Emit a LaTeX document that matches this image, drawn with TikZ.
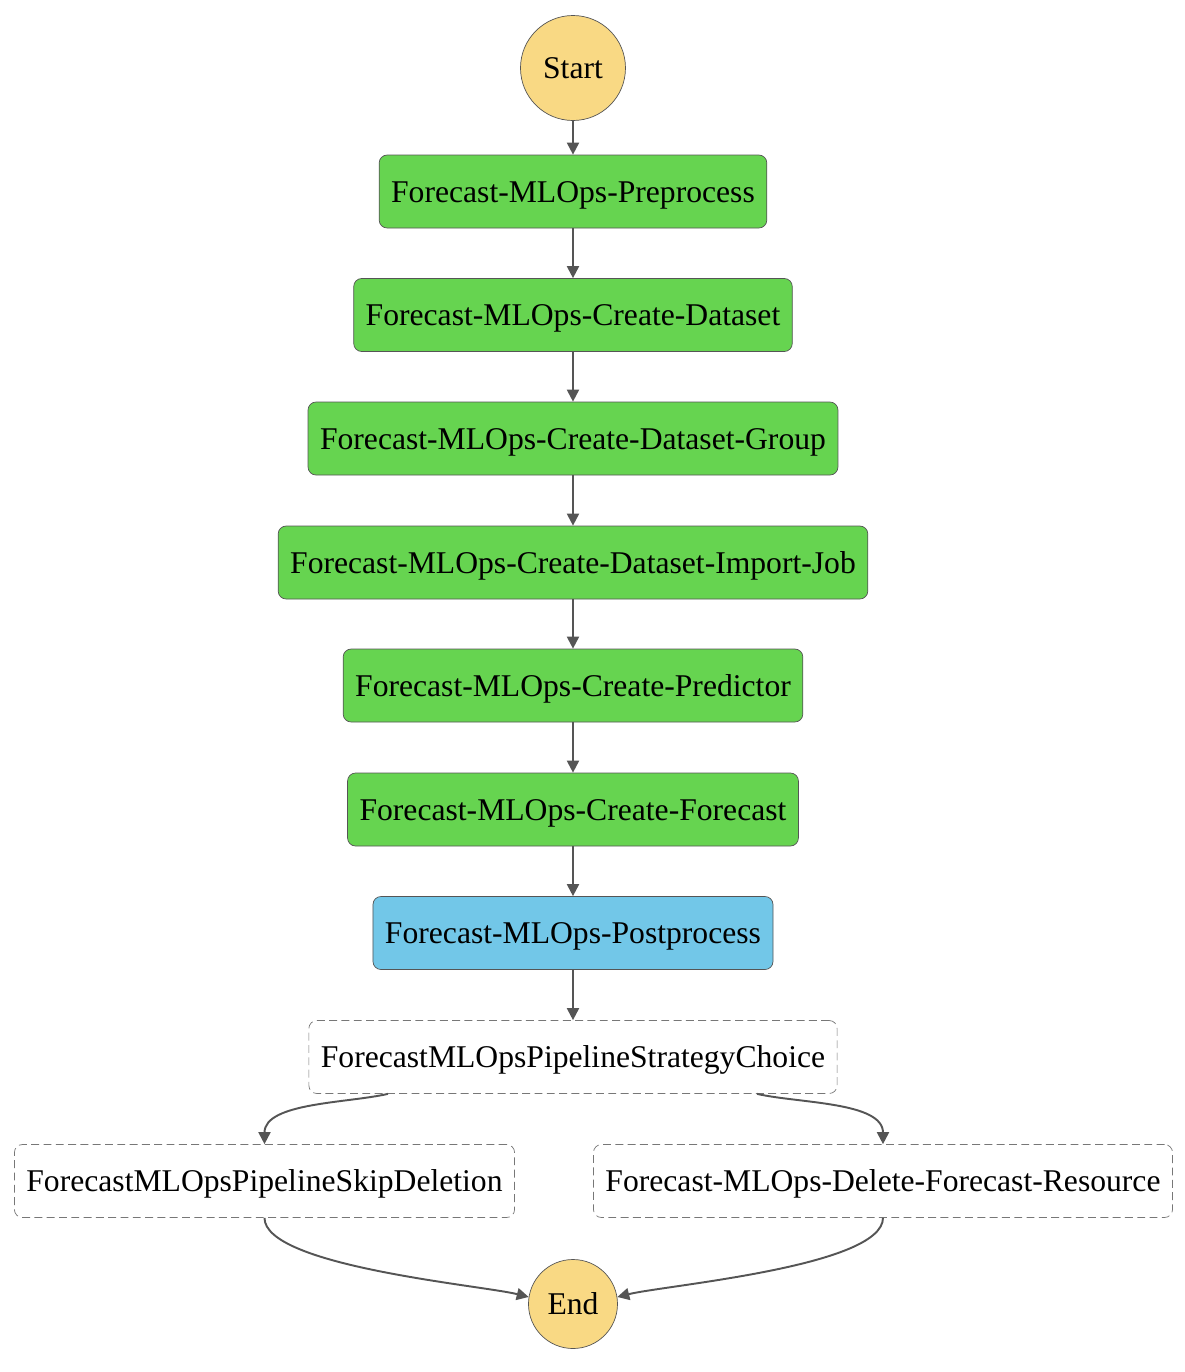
\documentclass[tikz,border=0pt]{standalone}
\usepackage{fontspec}
\setmainfont{Liberation Serif}
\usepackage{xcolor}
\usetikzlibrary{arrows.meta,shapes}

\definecolor{startyellow}{HTML}{F9D984}
\definecolor{taskgreen}{HTML}{66D450}
\definecolor{taskblue}{HTML}{72C7E8}
\definecolor{edgegray}{HTML}{555555}
\definecolor{dashgray}{HTML}{777777}

\tikzset{
	state/.style={draw=edgegray, rounded corners=0.16cm, minimum height=1.46cm,
		inner xsep=0.24cm, text height=0.43cm, text depth=0pt,
		font=\fontsize{18}{22}\selectfont},
	task/.style={state, fill=taskgreen},
	posttask/.style={state, fill=taskblue},
	choicestate/.style={state, draw=dashgray, dash pattern=on 4.5pt off 2.5pt, fill=white},
	terminal/.style={circle, draw=edgegray, fill=startyellow, inner sep=0pt,
		text height=0.43cm, text depth=0pt, font=\fontsize{18}{22}\selectfont},
	flow/.style={->, color=edgegray, line width=1.1pt, >={Triangle[length=0.24cm,width=0.24cm]}}
}

\begin{document}
\begin{tikzpicture}
		\useasboundingbox (-11.46,0) rectangle (12.24,-27.44);
		\node[terminal, minimum size=2.1cm] (Start) at (0,-1.36) {Start};
		\node[task] (Pre) at (0,-3.83) {Forecast-MLOps-Preprocess};
		\node[task] (DS) at (0,-6.30) {Forecast-MLOps-Create-Dataset};
		\node[task] (DSG) at (0,-8.77) {Forecast-MLOps-Create-Dataset-Group};
		\node[task] (DSIJ) at (0,-11.25) {Forecast-MLOps-Create-Dataset-Import-Job};
		\node[task] (Pred) at (0,-13.71) {Forecast-MLOps-Create-Predictor};
		\node[task] (FC) at (0,-16.19) {Forecast-MLOps-Create-Forecast};
		\node[posttask] (Post) at (0,-18.66) {Forecast-MLOps-Postprocess};
		\node[choicestate] (Choice) at (0,-21.14) {ForecastMLOpsPipelineStrategyChoice};
		\node[choicestate] (Skip) at (-6.17,-23.62) {ForecastMLOpsPipelineSkipDeletion};
		\node[choicestate] (Del) at (6.20,-23.62) {Forecast-MLOps-Delete-Forecast-Resource};
		\node[terminal, minimum size=1.78cm] (End) at (0,-26.08) {End};
				%
		\path[flow]
			(Start) edge (Pre)
			(Pre) edge (DS)
			(DS) edge (DSG)
			(DSG) edge (DSIJ)
			(DSIJ) edge (Pred)
			(Pred) edge (FC)
			(FC) edge (Post)
			(Post) edge (Choice);
		\draw[flow] ([xshift=-3.7cm]Choice.south) to[out=193,in=90,looseness=0.8] (Skip.north);
		\draw[flow] ([xshift=3.68cm]Choice.south) to[out=-13,in=90,looseness=0.8] (Del.north);
		\draw[flow] (Skip.south) to[out=-90,in=166,looseness=0.45] (End.171);
		\draw[flow] (Del.south) to[out=-90,in=14,looseness=0.45] (End.9);
	\end{tikzpicture}
\end{document}
